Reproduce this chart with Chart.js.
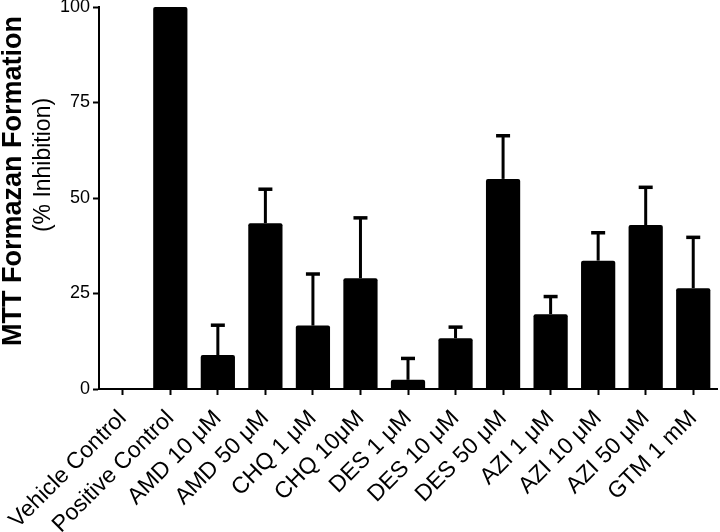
<!DOCTYPE html>
<html>
<head>
<meta charset="utf-8">
<script src="https://cdn.jsdelivr.net/npm/chart.js@4.4.0/dist/chart.umd.min.js"></script>
<style>
  html, body { margin: 0; padding: 0; background: #fff; }
  #wrap { width: 720px; height: 532px; }
</style>
</head>
<body>
<div id="wrap"><canvas id="chart" width="720" height="532"></canvas></div>
<script>
// categories / values (mean) / upper end of error bar
const categories = ['Vehicle Control', 'Positive Control', 'AMD 10 \u03bcM', 'AMD 50 \u03bcM', 'CHQ 1 \u03bcM',
    'CHQ 10\u03bcM', 'DES 1 \u03bcM', 'DES 10 \u03bcM', 'DES 50 \u03bcM', 'AZI 1 \u03bcM', 'AZI 10 \u03bcM',
    'AZI 50 \u03bcM', 'GTM 1 mM'];
const inhibition = [0, 100, 8.9, 43.4, 16.6, 29.0, 2.4, 13.3, 55.0, 19.6, 33.6, 42.9, 26.4];
const errorTop = [null, null, 16.7, 52.3, 30.1, 44.8, 8.0, 16.2, 66.3, 24.2, 40.9, 52.8, 39.7];
const yTicks = [0, 25, 50, 75, 100];

const FONT = "'Liberation Sans', Arial, sans-serif";

// error bars (only the upper half, like the original)
const errorBars = {
    id: 'errorBars',
    afterDatasetsDraw(chart) {
        const ctx = chart.ctx, y = chart.scales.y;
        const bars = chart.getDatasetMeta(0).data;
        ctx.save();
        ctx.strokeStyle = '#000';
        ctx.lineCap = 'butt';
        bars.forEach((bar, i) => {
            if (errorTop[i] == null) return;
            const top = y.getPixelForValue(errorTop[i]);
            ctx.lineWidth = 3;
            ctx.beginPath();
            ctx.moveTo(bar.x, bar.y);
            ctx.lineTo(bar.x, top);
            ctx.stroke();
            ctx.lineWidth = 3.5;
            ctx.beginPath();
            ctx.moveTo(bar.x - 7, top);
            ctx.lineTo(bar.x + 7, top);
            ctx.stroke();
        });
        ctx.restore();
    }
};

// two-line y title, first line bold
const yTitle = {
    id: 'yTitle',
    afterDraw(chart) {
        const ctx = chart.ctx;
        ctx.save();
        ctx.fillStyle = '#000';
        ctx.textAlign = 'center';
        ctx.textBaseline = 'alphabetic';
        ctx.translate(21, 181);
        ctx.rotate(-Math.PI / 2);
        ctx.font = 'bold 27px ' + FONT;
        ctx.fillText('MTT Formazan Formation', 0, 0);
        ctx.restore();
        ctx.save();
        ctx.fillStyle = '#000';
        ctx.textAlign = 'center';
        ctx.translate(50, 165);
        ctx.rotate(-Math.PI / 2);
        ctx.font = '23px ' + FONT;
        ctx.fillText('(% Inhibition)', 0, 0);
        ctx.restore();
    }
};

new Chart(document.getElementById('chart'), {
    type: 'bar',
    data: {
        labels: categories,
        datasets: [{
            data: inhibition,
            backgroundColor: '#000',
            borderWidth: 0,
            borderRadius: 2,
            borderSkipped: 'bottom',
            barPercentage: 0.72,
            categoryPercentage: 1.0
        }]
    },
    options: {
        responsive: false,
        animation: false,
        layout: { padding: { left: 0, right: 3, top: 7, bottom: 0 } },
        plugins: { legend: { display: false }, tooltip: { enabled: false } },
        scales: {
            x: {
                offset: true,
                grid: { display: true, offset: false, drawOnChartArea: false, drawTicks: true,
                    tickLength: 6, tickWidth: 2, tickColor: '#000' },
                border: { display: true, color: '#000', width: 2 },
                ticks: { color: '#000', font: { family: FONT, size: 23 }, autoSkip: false,
                    minRotation: 45, maxRotation: 45, padding: 10 },
                afterFit(scale) { scale.height = 143; scale.paddingLeft = 0; scale.paddingRight = 0; }
            },
            y: {
                min: 0, max: 100,
                afterBuildTicks(scale) { scale.ticks = yTicks.map(v => ({ value: v })); },
                grid: { display: true, drawOnChartArea: false, drawTicks: true,
                    tickLength: 6, tickWidth: 2, tickColor: '#000' },
                border: { display: true, color: '#000', width: 2 },
                ticks: { color: '#000', font: { family: FONT, size: 18 }, padding: 3 },
                afterFit(scale) { scale.width = 99; scale.paddingTop = 0; scale.paddingBottom = 0; }
            }
        }
    },
    plugins: [errorBars, yTitle]
});
</script>
</body>
</html>
